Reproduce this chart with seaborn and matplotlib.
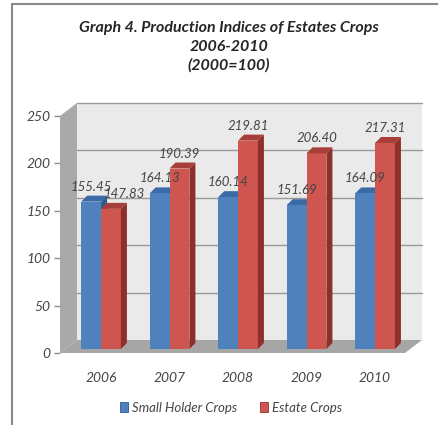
import numpy as np
import pandas as pd
import seaborn as sns
import matplotlib.pyplot as plt
from matplotlib.patches import Polygon, Rectangle
from matplotlib.lines import Line2D

# ---- data ----
years = ["2006", "2007", "2008", "2009", "2010"]
small_holder = [155.45, 164.13, 160.14, 151.69, 164.09]
estate = [147.83, 190.39, 219.81, 206.40, 217.31]
series_names = ["Small Holder Crops", "Estate Crops"]
y_ticks = [0, 50, 100, 150, 200, 250]
title = "Graph 4. Production Indices of Estates Crops\n2006-2010\n(2000=100)"

# ---- styling ----
front = {"Small Holder Crops": "#4f81bd", "Estate Crops": "#cf5550"}
side = {"Small Holder Crops": "#2f5a8f", "Estate Crops": "#8e2f2b"}
topc = {"Small Holder Crops": "#3b6aa6", "Estate Crops": "#a83e3a"}
text_col = "#454545"

sns.set_theme(style="white")
plt.rcParams["font.family"] = ["Lato", "DejaVu Sans"]

W, H = 438, 425
fig = plt.figure(figsize=(W / 100, H / 100), dpi=100)
fig.patch.set_facecolor("white")

# front plane of the 3-D box (pixels)
L, R, B, T = 60, 405, 353, 116
ax = fig.add_axes([L / W, 1 - B / H, (R - L) / W, (B - T) / H])
ax.set_facecolor("none")

df = pd.DataFrame({
    "Year": years * 2,
    "Index": small_holder + estate,
    "Series": [series_names[0]] * len(years) + [series_names[1]] * len(years),
})
sns.barplot(data=df, x="Year", y="Index", hue="Series", palette=front,
            width=0.58, saturation=1, errorbar=None, legend=False,
            ax=ax, zorder=3, linewidth=0)

xmin, xmax = -0.599, 4.437
ax.set_xlim(xmin, xmax)
ax.set_ylim(0, 250)


def px2data(dx, dy):
    (x0, y0), (x1, y1) = ax.transData.transform([(0, 0), (1, 1)])
    return dx / (x1 - x0), dy / (y1 - y0)


# back wall, side wall and floor
WX, WY = px2data(17, 13)
ax.add_patch(Rectangle((xmin + WX, WY), xmax - xmin, 250, facecolor="#eaeaea",
                       edgecolor="none", zorder=0.5, clip_on=False))
ax.add_patch(Polygon([(xmin, 0), (xmin, 250), (xmin + WX, 250 + WY), (xmin + WX, WY)],
                     closed=True, facecolor="#a9a9a9", edgecolor="none",
                     zorder=0.6, clip_on=False))
ax.add_patch(Polygon([(xmin, 0), (xmax, 0), (xmax + WX, WY), (xmin + WX, WY)],
                     closed=True, facecolor="#a6a6a6", edgecolor="none",
                     zorder=0.7, clip_on=False))
for v in y_ticks[1:]:
    ax.plot([xmin + WX, xmax + WX], [v + WY, v + WY], color="#9a9a9a",
            lw=1.0, zorder=1, clip_on=False)

# bars: lift slightly above the front floor edge and add depth faces
LX, LY = px2data(0, 4)
DX, DY = px2data(6, 6)
label_nudge = {(1, 0): 13}
for si, (name, cont) in enumerate(zip(series_names, ax.containers)):
    vals = small_holder if si == 0 else estate
    for bi, p in enumerate(cont.patches):
        x0, w, h = p.get_x(), p.get_width(), p.get_height()
        p.set_y(LY)
        y0, y1 = LY, h + LY
        zf = 2.9 if si == 0 else 3.1
        ax.add_patch(Polygon([(x0 + w, y0), (x0 + w + DX, y0 + DY),
                              (x0 + w + DX, y1 + DY), (x0 + w, y1)],
                             closed=True, facecolor=side[name], edgecolor="none",
                             zorder=zf, clip_on=False))
        ax.add_patch(Polygon([(x0, y1), (x0 + w, y1), (x0 + w + DX, y1 + DY),
                              (x0 + DX, y1 + DY)],
                             closed=True, facecolor=topc[name], edgecolor="none",
                             zorder=zf, clip_on=False))
        ax.annotate(f"{vals[bi]:.2f}", xy=(x0 + w / 2, y1),
                    xytext=(label_nudge.get((si, bi), 0), 15),
                    textcoords="offset pixels", ha="center", va="center",
                    fontsize=9.5, style="italic", color=text_col, zorder=5,
                    annotation_clip=False)

# axes text
ax.set_xlabel("")
ax.set_ylabel("")
ax.set_yticks(y_ticks)
ax.set_yticklabels([str(t) for t in y_ticks], fontsize=10, style="italic", color=text_col)
ax.tick_params(axis="y", left=True, length=4, width=1, color="#8c8c8c", pad=3)
ax.tick_params(axis="x", bottom=False, length=0, pad=14)
for lab in ax.get_xticklabels():
    lab.set_fontsize(10)
    lab.set_fontstyle("italic")
    lab.set_color(text_col)
    lab.set_x(lab.get_position()[0] - px2data(6, 0)[0])
for s in ax.spines.values():
    s.set_visible(False)

# legend
handles = [Rectangle((0, 0), 1, 1, facecolor=front[n], edgecolor=side[n], lw=0.6)
           for n in series_names]
fig.legend(handles, series_names, loc="center",
           bbox_to_anchor=(231 / W, 1 - 408 / H), ncol=2, frameon=False,
           prop={"style": "italic", "size": 9.5}, labelcolor=text_col,
           handlelength=0.6, handleheight=0.8, handletextpad=0.3,
           columnspacing=1.8)

# title
fig.text(229 / W, 1 - 47 / H, title, ha="center", va="center", fontsize=11.5,
         weight="bold", style="italic", color="#262626", linespacing=1.42)

# outer frame
fig.add_artist(Line2D([12 / W, 12 / W], [0, 1 - 4 / H], color="#8a8a8a", lw=1.5,
                      transform=fig.transFigure))
fig.add_artist(Line2D([12 / W, 1], [1 - 4 / H, 1 - 4 / H], color="#8a8a8a", lw=1.5,
                      transform=fig.transFigure))

fig.savefig("out.png", dpi=100)
